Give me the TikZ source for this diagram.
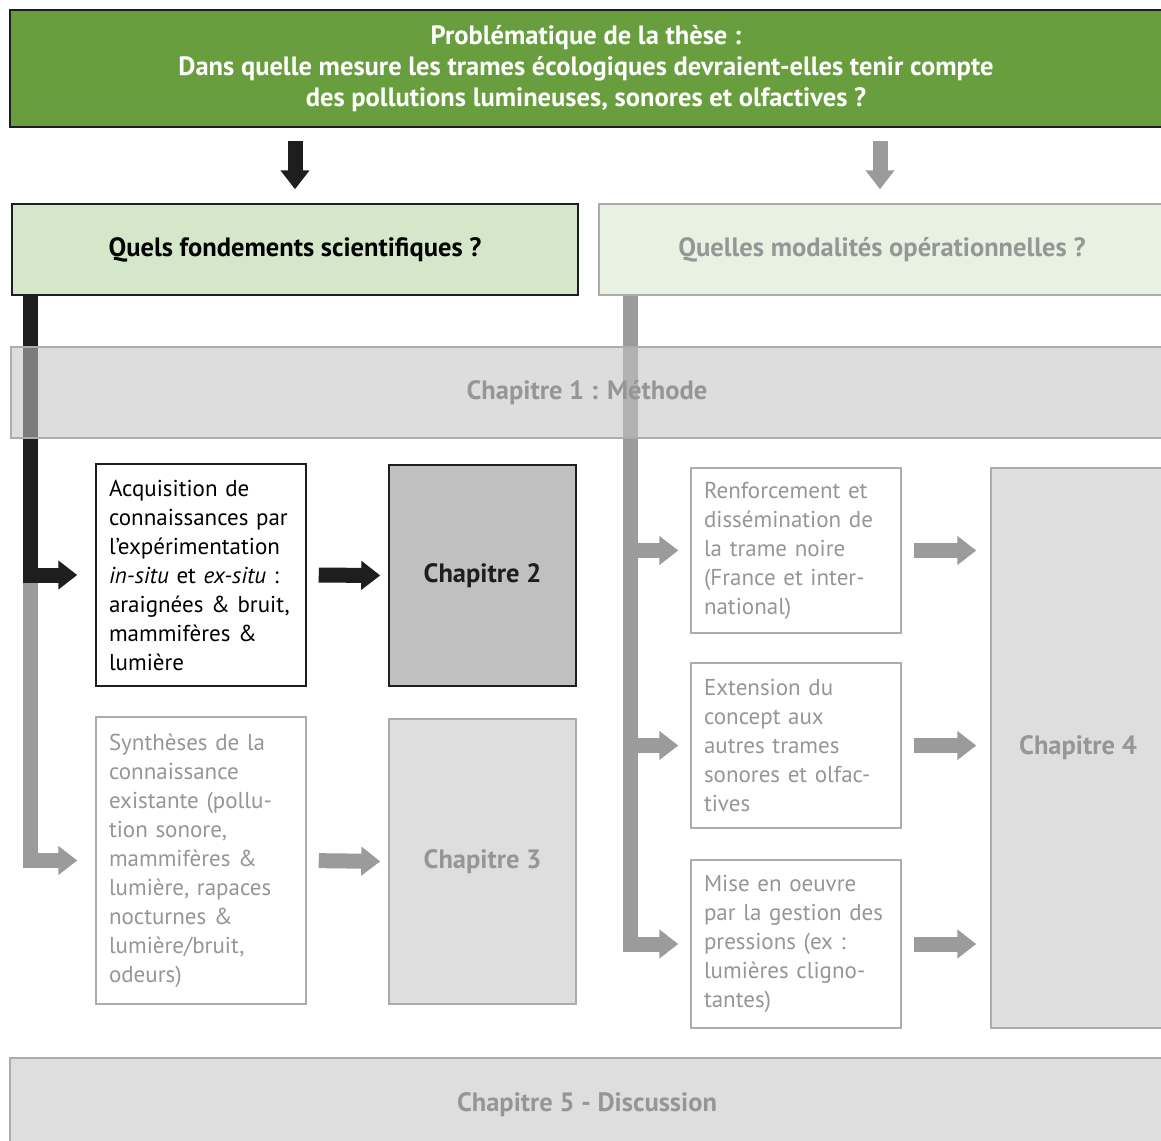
\documentclass[tikz,border=0pt]{standalone}
\usepackage{fontspec}
\setmainfont{PT Sans}
\usetikzlibrary{arrows.meta}
\definecolor{topgreen}{RGB}{104,158,62}
\definecolor{lgreen}{RGB}{212,231,200}
\definecolor{vlgreen}{RGB}{232,242,227}
\definecolor{boxgray}{RGB}{222,222,222}
\definecolor{bandgray}{RGB}{196,196,196}
\definecolor{bordgray}{RGB}{172,172,172}
\definecolor{txtgray}{RGB}{150,150,150}
\definecolor{ch2gray}{RGB}{192,192,192}
\definecolor{darkline}{RGB}{30,30,30}
\definecolor{arrgray}{RGB}{155,155,155}
\tikzset{
  box/.style={rectangle, inner sep=0pt, line width=1.5pt},
  bodytext/.style={font=\fontsize{23}{29}\selectfont, align=left, text width=184pt, inner xsep=13pt},
  titletext/.style={font=\fontsize{26.5}{30}\selectfont\bfseries},
  darrow/.style={line width=15pt, draw=darkline, -{Triangle[length=19pt,width=28pt]}},
  garrow/.style={line width=15pt, draw=arrgray, -{Triangle[length=19pt,width=28pt]}},
  dspine/.style={line width=15pt, draw=darkline},
  gspine/.style={line width=15pt, draw=arrgray},
}
\begin{document}
\begin{tikzpicture}[x=1pt,y=-1pt]
\clip (0,0) rectangle (1161,1140);
\fill[white] (0,0) rectangle (1161,1140);

% top problem box
\node[box, draw=darkline, fill=topgreen, minimum width=1152pt, minimum height=117pt,
      text=white, align=center, font=\fontsize{26.5}{31}\selectfont\bfseries] (top) at (586,68.5)
  {Problématique de la thèse :\\Dans quelle mesure les trames écologiques devraient-elles tenir compte\\des pollutions lumineuses, sonores et olfactives ?};

% two questions
\node[box, draw=darkline, fill=lgreen, minimum width=566pt, minimum height=91pt, titletext, text=black] (qf) at (295,249.5) {Quels fondements scientifiques ?};
\node[box, draw=bordgray, fill=vlgreen, minimum width=566pt, minimum height=91pt, titletext, text=txtgray] (qm) at (882,249.5) {Quelles modalités opérationnelles ?};

% left column
\node[box, draw=darkline, fill=white, minimum width=210pt, minimum height=222pt, bodytext, text=black] (acq) at (201,575)
  {Acquisition de\\connaissances par\\l’expérimentation\\\textit{in-situ} et \textit{ex-situ} :\\araignées \& bruit,\\mammifères \&\\lumière};
\node[box, draw=darkline, fill=ch2gray, minimum width=187pt, minimum height=221pt, titletext, text=darkline] (ch2) at (482.5,575.5) {Chapitre 2};
\node[box, draw=bordgray, fill=white, minimum width=210pt, minimum height=287pt, bodytext, text=txtgray] (syn) at (201,860.5)
  {Synthèses de la\\connaissance\\existante (pollu-\\tion sonore,\\mammifères \&\\lumière, rapaces\\nocturnes \&\\lumière/bruit,\\odeurs)};
\node[box, draw=bordgray, fill=boxgray, minimum width=187pt, minimum height=285pt, titletext, text=txtgray] (ch3) at (482.5,861.5) {Chapitre 3};

% right column
\node[box, draw=bordgray, fill=white, minimum width=210pt, minimum height=165pt, bodytext, text=txtgray] (m1) at (796,550.5)
  {Renforcement et\\dissémination de\\la trame noire\\(France et inter-\\national)};
\node[box, draw=bordgray, fill=white, minimum width=210pt, minimum height=165pt, bodytext, text=txtgray] (m2) at (796,745.5)
  {Extension du\\concept aux\\autres trames\\sonores et olfac-\\tives};
\node[box, draw=bordgray, fill=white, minimum width=210pt, minimum height=168pt, bodytext, text=txtgray] (m3) at (796,944)
  {Mise en oeuvre\\par la gestion des\\pressions (ex :\\lumières cligno-\\tantes)};
\node[box, draw=bordgray, fill=boxgray, minimum width=174pt, minimum height=560pt, titletext, text=txtgray] (ch4) at (1078,748) {Chapitre 4};

% bottom band
\node[box, draw=bordgray, fill=boxgray, minimum width=1154pt, minimum height=94pt, titletext, text=txtgray] (ch5) at (587,1105) {Chapitre 5 - Discussion};

% arrows from the top box
\draw[darrow, shorten <=13pt, shorten >=14pt] (top.south -| qf.north) -- (qf.north);
\draw[garrow, shorten <=13pt, shorten >=14pt] (top.south -| 880,0) coordinate (tq) -- (tq |- qm.north);

% left spine
\coordinate (ls) at (30.5,0);
\draw[gspine] (ls |- acq.west) -- (ls |- syn.west);
\draw[garrow, shorten >=18pt] (ls |- syn.west) ++(-7.5,0) coordinate (lsb) -- (syn.west);
\draw[darrow, shorten >=18pt] (qf.south -| ls) |- (acq.west);
\draw[darrow, shorten <=12pt, shorten >=8pt] (acq.east) -- (ch2.west);
\draw[garrow, shorten <=12pt, shorten >=8pt] (syn.east) -- (ch3.west);

% right spine
\coordinate (rs) at (630,0);
\draw[gspine] (qm.south -| rs) -- (rs |- m3.west);
\draw[garrow, shorten >=12pt] (rs |- m1.west) -- (m1.west);
\draw[garrow, shorten >=12pt] (rs |- m2.west) -- (m2.west);
\draw[garrow, shorten >=12pt] (rs |- m3.west) ++(-7.5,0) -- (m3.west);
\draw[garrow, shorten <=12pt, shorten >=14pt] (m1.east) -- (m1.east -| ch4.west);
\draw[garrow, shorten <=12pt, shorten >=14pt] (m2.east) -- (m2.east -| ch4.west);
\draw[garrow, shorten <=12pt, shorten >=14pt] (m3.east) -- (m3.east -| ch4.west);

% Chapitre 1 band, semi-transparent, over the spines
\node[box, draw=bordgray, fill=bandgray, fill opacity=0.57, draw opacity=1, text opacity=1,
      minimum width=1152pt, minimum height=91pt, titletext, text=txtgray] (ch1) at (587,392.5) {Chapitre 1 : Méthode};
\end{tikzpicture}
\end{document}
